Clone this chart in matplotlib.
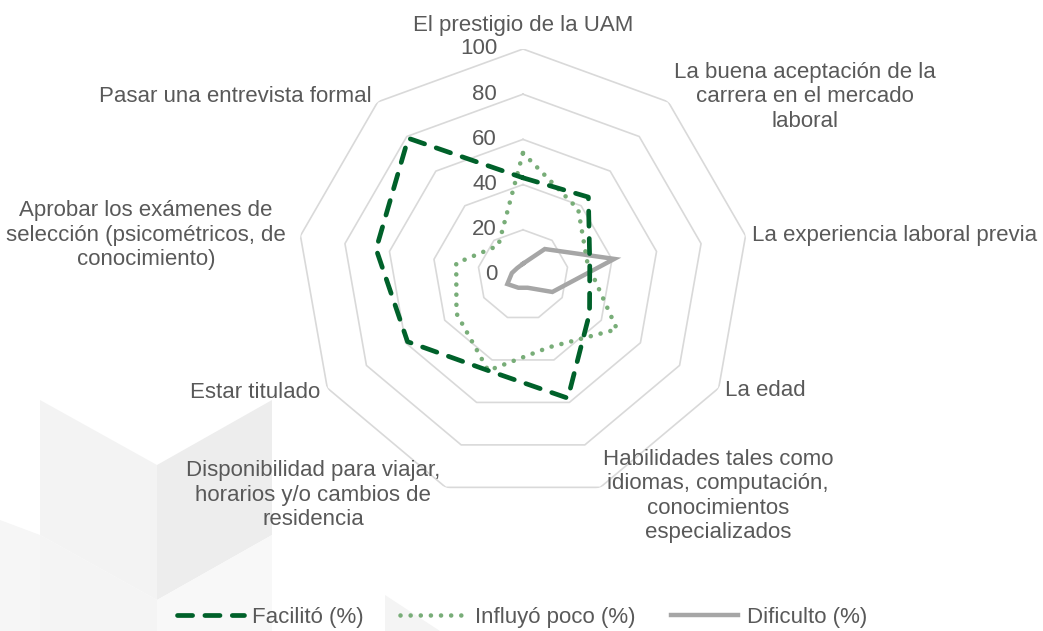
import numpy as np
import matplotlib
matplotlib.use('Agg')
import matplotlib.pyplot as plt
from matplotlib.patches import Polygon

plt.rcParams['font.family'] = ['Liberation Sans', 'DejaVu Sans']

categories = ['El prestigio de la UAM',
              'La buena aceptación de la\ncarrera en el mercado\nlaboral',
              'La experiencia laboral previa',
              'La edad',
              'Habilidades tales como\nidiomas, computación,\nconocimientos\nespecializados',
              'Disponibilidad para viajar,\nhorarios y/o cambios de\nresidencia',
              'Estar titulado',
              'Aprobar los exámenes de\nselección (psicométricos, de\nconocimiento)',
              'Pasar una entrevista formal']
facilito = [43, 45, 30, 34, 58, 45, 59, 66, 79]
influyo_poco = [54, 38, 29, 48, 34, 45, 34, 30, 17]
dificulto = [5, 15, 41, 15, 6, 6, 8, 5, 4]
ring_values = [20, 40, 60, 80, 100]
tick_labels = ['0', '20', '40', '60', '80', '100']

W, H = 1043, 631
fig = plt.figure(figsize=(W / 100, H / 100), dpi=100)
fig.patch.set_facecolor('white')

# faint decorative cubes in the background (bottom left)
def px(pts):
    return [(x / W, 1 - y / H) for x, y in pts]

deco = [
    ([(0, 520), (40, 535), (40, 631), (0, 631)], '#f6f6f6'),
    ([(40, 400), (157, 465), (157, 600), (40, 535)], '#f3f3f3'),
    ([(157, 465), (272, 400), (272, 535), (157, 600)], '#ededed'),
    ([(40, 535), (157, 600), (157, 631), (40, 631)], '#f4f4f4'),
    ([(157, 600), (272, 535), (272, 631), (157, 631)], '#f8f8f8'),
    ([(385, 595), (440, 631), (385, 631)], '#f4f4f4'),
]
for pts, col in deco:
    fig.patches.append(Polygon(px(pts), closed=True, transform=fig.transFigure,
                               facecolor=col, edgecolor='none', zorder=0))

cx, cy, R = 523, 275, 226
ax = fig.add_axes([(cx - R) / W, 1 - (cy + R) / H, 2 * R / W, 2 * R / H], projection='polar')
ax.set_facecolor('none')
ax.set_theta_offset(np.pi / 2)
ax.set_theta_direction(-1)
ax.set_ylim(0, 100)
ax.grid(False)
ax.spines['polar'].set_visible(False)
ax.set_xticks([])
ax.set_yticks([])

n = len(categories)
angles = np.linspace(0, 2 * np.pi, n, endpoint=False)
closed = np.append(angles, angles[0])

# nonagon rings
for r in ring_values:
    ax.plot(closed, [r] * (n + 1), color='#d9d9d9', lw=1.2, zorder=1)

# radial value labels
for v, lab in zip(range(0, 101, 20), tick_labels):
    ax.annotate(lab, xy=(0, v), xytext=(-26, 0), textcoords='offset pixels',
                ha='right', va='center', fontsize=16, color='#595959')

def close(vals):
    return list(vals) + [vals[0]]

ax.plot(closed, close(facilito), color='#00612a', lw=3.4, linestyle=(0, (3.2, 2.6)),
        dash_capstyle='round', label='Facilitó (%)', zorder=4)
ax.plot(closed, close(influyo_poco), color='#78ad78', lw=3.3, linestyle=(0, (0.01, 2.2)),
        dash_capstyle='round', label='Influyó poco (%)', zorder=3)
ax.plot(closed, close(dificulto), color='#a6a6a6', lw=3.2, solid_joinstyle='miter',
        label='Dificulto (%)', zorder=2)

# category labels (pixel anchor, alignment)
label_pos = [
    ((523, 25), 'center'),
    ((805, 97), 'center'),
    ((752, 235), 'left'),
    ((725, 390), 'left'),
    ((718, 496), 'center'),
    ((313, 495), 'center'),
    ((320, 392), 'right'),
    ((146, 235), 'center'),
    ((372, 97), 'right'),
]
for text, ((x, y), ha) in zip(categories, label_pos):
    fig.text(x / W, 1 - y / H, text, ha=ha, va='center', multialignment='center' if ha == 'center' else ha,
             fontsize=16, color='#595959', linespacing=1.2)

fig.legend(loc='center', bbox_to_anchor=(522 / W, 1 - 617 / H), ncol=3, frameon=False,
           fontsize=16, labelcolor='#595959', handlelength=3.0, handletextpad=0.4,
           columnspacing=1.6)

fig.savefig('out.png', dpi=100, facecolor='white')
